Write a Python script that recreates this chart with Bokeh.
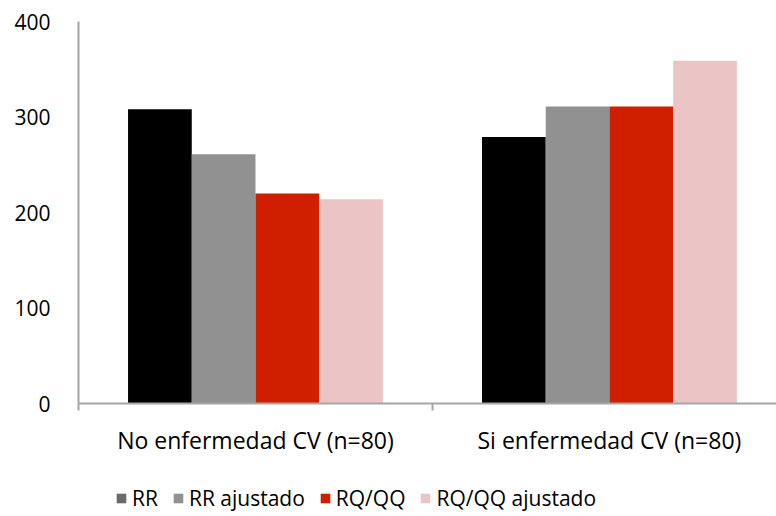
from bokeh.plotting import figure
from bokeh.layouts import column
from bokeh.models import Range1d, FixedTicker, Legend, LegendItem, ColumnDataSource
from bokeh.embed import file_html
from bokeh.resources import INLINE

categories = ["No enfermedad CV (n=80)", "Si enfermedad CV (n=80)"]
series = ["RR", "RR ajustado", "RQ/QQ", "RQ/QQ ajustado"]
rr = [308, 279]
rr_ajustado = [261, 311]
rq_qq = [220, 311]
rq_qq_ajustado = [214, 359]
y_ticks = [0, 100, 200, 300, 400]

values = [rr, rr_ajustado, rq_qq, rq_qq_ajustado]
bar_colors = ["#000000", "#919191", "#cf1f00", "#ebc5c5"]
legend_colors = ["#6a6a6a", "#919191", "#cf1f00", "#ebc5c5"]
offsets = [-0.27, -0.09, 0.09, 0.27]
FONT = "Open Sans"

p = figure(frame_width=698, frame_height=382, output_backend="svg", toolbar_location=None,
           x_range=Range1d(0, 1.972), y_range=Range1d(0, 400),
           min_border_left=78, min_border_right=0, min_border_top=21,
           min_border_bottom=75)
p.outline_line_color = None
p.xgrid.visible = False
p.ygrid.visible = False
p.background_fill_color = "white"

centers = [i + 0.5 for i in range(len(categories))]
for k, (name, vals) in enumerate(zip(series, values)):
    src = ColumnDataSource(dict(x=[c + offsets[k] for c in centers], top=vals))
    p.vbar(x="x", top="top", width=0.18, bottom=0, source=src,
           fill_color=bar_colors[k], line_color=None)

# y axis
p.yaxis.ticker = FixedTicker(ticks=y_ticks)
p.yaxis.axis_line_color = "#a6a6a6"
p.yaxis.axis_line_width = 2
p.yaxis.major_tick_line_color = None
p.yaxis.minor_tick_line_color = None
p.yaxis.major_label_text_font = FONT
p.yaxis.major_label_text_font_size = "21px"
p.yaxis.major_label_text_color = "#000000"
p.yaxis.major_label_standoff = 22

# x axis
p.xaxis.ticker = FixedTicker(ticks=centers, minor_ticks=[0, 1, 2])
p.xaxis.major_label_overrides = {c: cat for c, cat in zip(centers, categories)}
p.xaxis.axis_line_color = "#a6a6a6"
p.xaxis.axis_line_width = 2
p.xaxis.major_tick_line_color = None
p.xaxis.minor_tick_line_color = "#a6a6a6"
p.xaxis.minor_tick_line_width = 2
p.xaxis.minor_tick_in = 0
p.xaxis.minor_tick_out = 7
p.xaxis.major_label_text_font = FONT
p.xaxis.major_label_text_font_size = "23px"
p.xaxis.major_label_text_color = "#000000"
p.xaxis.major_label_standoff = 13

# legend in its own strip below the chart
lf = figure(width=776, height=38, output_backend="svg", toolbar_location=None,
            x_range=Range1d(0, 1), y_range=Range1d(0, 1),
            min_border=0)
lf.outline_line_color = None
lf.axis.visible = False
lf.grid.visible = False
items = []
for k, name in enumerate(series):
    dummy = lf.vbar(x=[float("nan")], top=[float("nan")], width=0.1,
                    fill_color=legend_colors[k], line_color=None)
    items.append(LegendItem(label=name, renderers=[dummy]))
legend = Legend(items=items, orientation="horizontal", location=(37, 4),
                label_text_font=FONT, label_text_font_size="21px",
                label_text_color="#000000",
                glyph_width=12, glyph_height=12, spacing=14,
                label_standoff=5, border_line_color=None,
                background_fill_alpha=0, margin=0, padding=0)
lf.add_layout(legend, "center")

layout = column(p, lf, spacing=0)
open("out.html", "w").write(file_html(layout, INLINE))
